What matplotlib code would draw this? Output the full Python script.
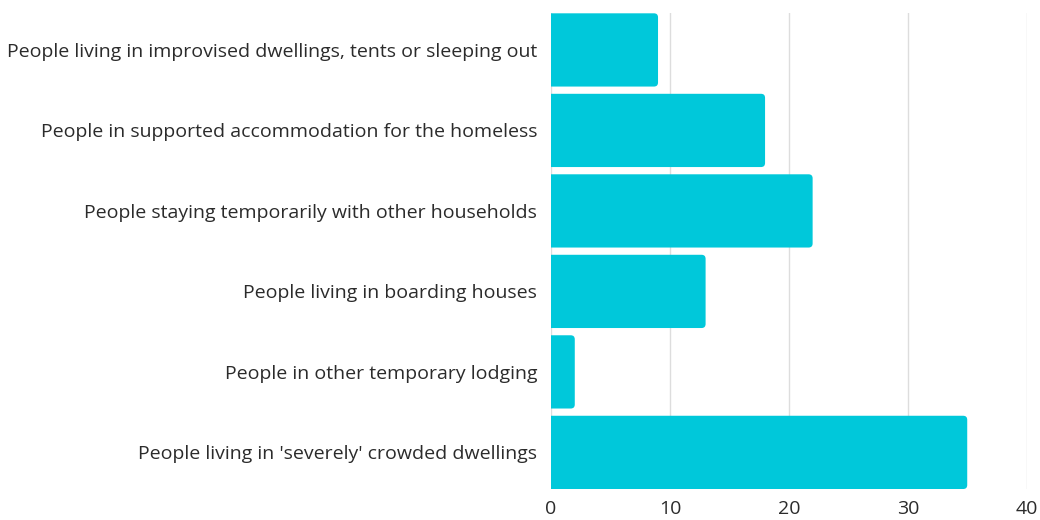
import matplotlib.pyplot as plt
from matplotlib.patches import FancyBboxPatch

categories = [
    "People living in improvised dwellings, tents or sleeping out",
    "People in supported accommodation for the homeless",
    "People staying temporarily with other households",
    "People living in boarding houses",
    "People in other temporary lodging",
    "People living in 'severely' crowded dwellings",
]
values = [9, 18, 22, 13, 2, 35]
ticks = [0, 10, 20, 30, 40]

bar_color = "#00C8DA"
text_color = "#2b2b2b"

plt.rcParams["font.family"] = ["Open Sans", "DejaVu Sans"]

fig = plt.figure(figsize=(10.4, 5.2), dpi=100)
ax = fig.add_axes([0.5298, 0.0596, 0.4574, 0.9148])

ypos = list(range(len(categories)))
bars = ax.barh(ypos, values, height=0.91, color=bar_color)

# swap the plain rectangles for ones with rounded ends
for b in bars:
    x, y = b.get_x(), b.get_y()
    w, h = b.get_width(), b.get_height()
    b.set_visible(False)
    rb = FancyBboxPatch((x - 1, y), w + 1, h,
                        boxstyle="round,pad=0,rounding_size=0.34",
                        mutation_aspect=0.147,
                        facecolor=bar_color, edgecolor="none", zorder=3)
    ax.add_patch(rb)

ax.set_xlim(0, 40)
ax.set_ylim(len(categories) - 0.545, -0.455)

ax.set_xticks(ticks)
ax.set_xticklabels([str(t) for t in ticks])
ax.set_yticks(ypos)
ax.set_yticklabels(categories)

ax.tick_params(axis="y", length=0, pad=10, labelsize=14, labelcolor=text_color)
ax.tick_params(axis="x", length=0, pad=8, labelsize=14, labelcolor=text_color)

ax.grid(axis="x", color="#dddddd", linewidth=1, zorder=0)
ax.set_axisbelow(True)
for s in ax.spines.values():
    s.set_visible(False)

fig.savefig("out.png", dpi=100, facecolor="white")
